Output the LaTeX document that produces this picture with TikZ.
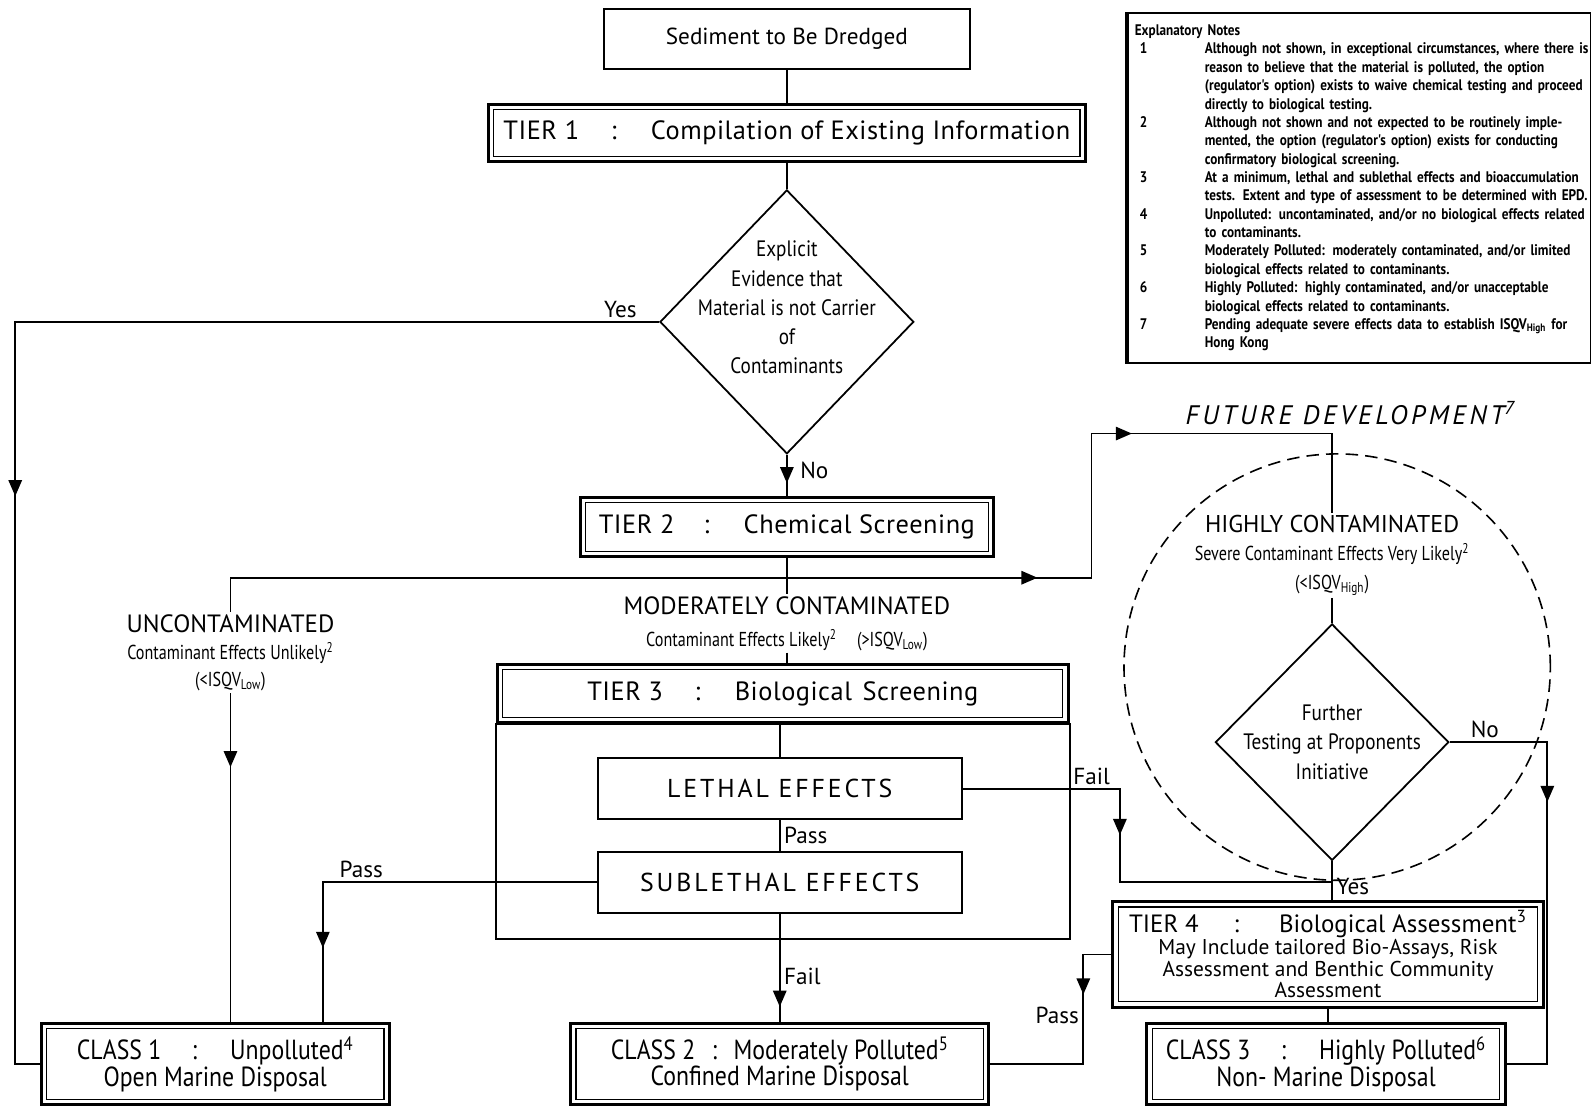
\documentclass[tikz,border=0pt]{standalone}
\usepackage{fontspec}
\setmainfont{PT Sans}
\newfontfamily\narrowfont[FakeStretch=0.86]{PT Sans}
\newfontfamily\notefont[FakeStretch=0.8]{PT Sans}
\usetikzlibrary{arrows.meta,shapes.geometric,decorations.markings,positioning}

\tikzset{
  box/.style={draw, line width=1.1pt, inner sep=0pt, align=center},
  dblbox/.style={draw, line width=1.7pt, inner sep=0pt, align=center,
    path picture={\draw[line width=0.6pt]
      ([shift={(3pt,-3pt)}]path picture bounding box.north west) rectangle
      ([shift={(-3pt,3pt)}]path picture bounding box.south east);}},
  tiertxt/.style={font=\fontsize{14.8}{16}\selectfont\addfontfeature{LetterSpace=2}},
  classbox/.style={dblbox, font=\narrowfont\fontsize{15.5}{14.8}\selectfont},
  effbox/.style={box, minimum width=7.18cm, minimum height=1.2cm,
    font=\fontsize{14.5}{16}\selectfont\addfontfeature{LetterSpace=11}},
  decision/.style={diamond, draw, line width=1pt, inner sep=0pt},
  dtext/.style={font=\narrowfont\fontsize{12.5}{16.4}\selectfont, align=center},
  flow/.style={line width=1pt},
  arrowat/.style={postaction={decorate, decoration={markings,
    mark=at position #1 with {\arrow{Triangle[length=9pt,width=7.5pt]}}}}},
  lbl/.style={font=\fontsize{13}{15}\selectfont, inner sep=2pt},
  state/.style={align=center, inner sep=1pt},
}
\newcommand{\subtxt}{\notefont\fontsize{11.3}{15}\selectfont}

\begin{document}
\begin{tikzpicture}[x=0.02cm, y=-0.02cm]
  \useasboundingbox (0,0) rectangle (1568,1090);

  % main column
  \node[box, minimum width=7.22cm, minimum height=1.18cm,
        font=\fontsize{13}{15}\selectfont] (sed) at (775,38) {Sediment to Be Dredged};
  \node[dblbox, tiertxt, minimum width=11.76cm, minimum height=1.14cm] (tier1) at (775,131)
    {TIER 1\hspace{1.2em}:\hspace{1.3em}Compilation of Existing Information};
  \node[decision, minimum width=5cm, minimum height=5.2cm,
        label={[dtext, yshift=0.28cm]center:Explicit\\Evidence that\\Material is not Carrier\\of\\Contaminants}]
        (dia1) at (775,317) {};
  \node[dblbox, tiertxt, minimum width=8.14cm, minimum height=1.16cm] (tier2) at (775,519)
    {TIER 2\hspace{1.1em}:\hspace{1.3em}Chemical Screening};

  \node[state, font=\fontsize{14}{15.3}\selectfont] (unc) at (227,643)
    {UNCONTAMINATED\\{\subtxt Contaminant Effects Unlikely\textsuperscript{2}}\\{\subtxt (<ISQV\textsubscript{Low})}};
  \node[state, font=\fontsize{14}{18}\selectfont] (mod) at (775,614)
    {MODERATELY CONTAMINATED\\{\subtxt Contaminant Effects Likely\textsuperscript{2}\hspace{1em}(>ISQV\textsubscript{Low})}};

  \node[dblbox, tiertxt, minimum width=11.24cm, minimum height=1.14cm] (tier3) at (771,683)
    {TIER 3\hspace{1.2em}:\hspace{1.3em}Biological\hspace{0.4em}Screening};
  \node[effbox] (lethal) at (768,777) {LETHAL EFFECTS};
  \node[effbox] (sublethal) at (768,869) {SUBLETHAL EFFECTS};

  % future development
  \node[font=\itshape\fontsize{15}{16}\selectfont\addfontfeature{LetterSpace=13}] (futlbl) at (1330,407)
    {FUTURE DEVELOPMENT\textsuperscript{7}};
  \node[circle, draw, line width=0.9pt, dash pattern=on 7pt off 4pt, minimum size=8.4cm] (fut) at (1317,657) {};
  \node[state, font=\fontsize{13.6}{16}\selectfont] (high) at (1312,547)
    {HIGHLY CONTAMINATED\\{\subtxt Severe Contaminant Effects Very Likely\textsuperscript{2}}\\{\subtxt (<ISQV\textsubscript{High})}};
  \node[decision, minimum width=4.6cm, minimum height=4.66cm,
        label={[dtext]center:Further\\Testing at Proponents\\Initiative}]
        (dia2) at (1312,731) {};
  \node[dblbox, minimum width=8.48cm, minimum height=2.08cm,
        font=\fontsize{12}{12.3}\selectfont] (tier4) at (1308,940)
    {{\fontsize{14}{14}\selectfont TIER 4\hspace{1.4em}:\hspace{1.6em}Biological Assessment\textsuperscript{3}}\\
     May Include tailored Bio-Assays, Risk\\Assessment and Benthic Community\\Assessment};

  % classes
  \node[classbox, minimum width=6.86cm, minimum height=1.6cm] (class1) at (212,1048)
    {CLASS 1\hspace{1.1em}:\hspace{1.2em}Unpolluted\textsuperscript{4}\\Open Marine Disposal};
  \node[classbox, minimum width=8.24cm, minimum height=1.6cm] (class2) at (768,1048)
    {CLASS 2\hspace{0.6em}:\hspace{0.6em}Moderately Polluted\textsuperscript{5}\\Confined Marine Disposal};
  \node[classbox, minimum width=7.06cm, minimum height=1.6cm] (class3) at (1306,1048)
    {CLASS 3\hspace{1.1em}:\hspace{1.2em}Highly Polluted\textsuperscript{6}\\Non- Marine Disposal};

  % notes
  \node[draw, line width=0.8pt, anchor=north west, text width=8.84cm, inner xsep=0.14cm,
        minimum height=6.9cm, font=\narrowfont\bfseries\fontsize{8.6}{10.3}\selectfont] (notes) at (1110,12)
  {\begin{tabular}{@{}p{1.38cm}@{}l@{}}
   \multicolumn{2}{@{}l}{Explanatory Notes}\\
   \hspace{0.1cm}1 & Although not shown, in exceptional circumstances, where there is\\
    & reason to believe that the material is polluted, the option\\
    & (regulator's option) exists to waive chemical testing and proceed\\
    & directly to biological testing.\\
   \hspace{0.1cm}2 & Although not shown and not expected to be routinely imple-\\
    & mented, the option (regulator's option) exists for conducting\\
    & confirmatory biological screening.\\
   \hspace{0.1cm}3 & At a minimum, lethal and sublethal effects and bioaccumulation\\
    & tests. Extent and type of assessment to be determined with EPD.\\
   \hspace{0.1cm}4 & Unpolluted: uncontaminated, and/or no biological effects related\\
    & to contaminants.\\
   \hspace{0.1cm}5 & Moderately Polluted: moderately contaminated, and/or limited\\
    & biological effects related to contaminants.\\
   \hspace{0.1cm}6 & Highly Polluted: highly contaminated, and/or unacceptable\\
    & biological effects related to contaminants.\\
   \hspace{0.1cm}7 & Pending adequate severe effects data to establish ISQV\textsubscript{High} for\\
    & Hong Kong
   \end{tabular}};
  \draw[line width=2pt] (notes.north west) -- (notes.south west);

  % bends
  \coordinate (ycorner) at (15,1048);
  \coordinate (splitL) at (227,569);
  \coordinate (splitR) at (1075,569);
  \coordinate (hc) at (1312,427);
  \coordinate (t3bot) at (771,925);
  \coordinate (pc1) at (318,869);
  \coordinate (fc) at (1103,869);
  \coordinate (nc) at (1524,1048);
  \coordinate (tc) at (1067,1048);

  % connectors
  \draw[flow] (sed) -- (tier1);
  \draw[flow] (tier1) -- (dia1);
  \draw[flow, arrowat=0.56cm] (dia1.south) -- node[lbl, right=5pt, pos=0.37] (lno1) {No} (tier2.north);
  \draw[flow, arrowat=16.12cm] (dia1.west) -| node[lbl, above, pos=0.03] (lyes1) {Yes} (ycorner) -- (class1.west);

  \draw[flow] (tier2) -- (mod);
  \draw[flow] (splitL) -- (unc);
  \draw[flow, arrowat=15.9cm, arrowat=20.6cm] (splitL) -- (splitR) |- (hc) -- (high);
  \draw[flow, arrowat=-5.02cm] (unc) -- (unc |- class1.north);
  \draw[flow] (mod) -- (mod |- tier3.north);

  \draw[line width=1.1pt] (tier3.south west) rectangle (tier3.south east |- t3bot);
  \draw[flow] (lethal.north |- tier3.south) -- (lethal.north);
  \draw[flow] (lethal) -- node[lbl, right, pos=0.5] (lpass1) {Pass} (sublethal);
  \draw[flow, arrowat=-1.46cm] (sublethal.west) -- node[lbl, above, pos=0.86] (lpass2) {Pass} (pc1) -- (pc1 |- class1.north);
  \draw[flow, arrowat=-0.3cm] (sublethal) -- node[lbl, right, pos=0.58] (lfail1) {Fail} (class2);
  \draw[flow, arrowat=4cm] (lethal.east) -| node[lbl, above, pos=0.41] (lfail2) {Fail} (fc) -- (fc -| dia2.south);

  \draw[flow] (high) -- (dia2);
  \draw[flow, arrowat=3.1cm] (dia2.east) -| node[lbl, above, pos=0.18] (lno2) {No} (nc) -- (class3.east);
  \draw[flow] (dia2.south) -- node[lbl, right, pos=0.65] (lyes2) {Yes} (dia2.south |- tier4.north);
  \draw[flow, arrowat=1.34cm] (tier4.west) -| node[lbl, left, pos=0.78] (lpass3) {Pass} (tc) -- (class2.east);
  \draw[flow] (tier4.south) -- (tier4.south |- class3.north);
\end{tikzpicture}
\end{document}
